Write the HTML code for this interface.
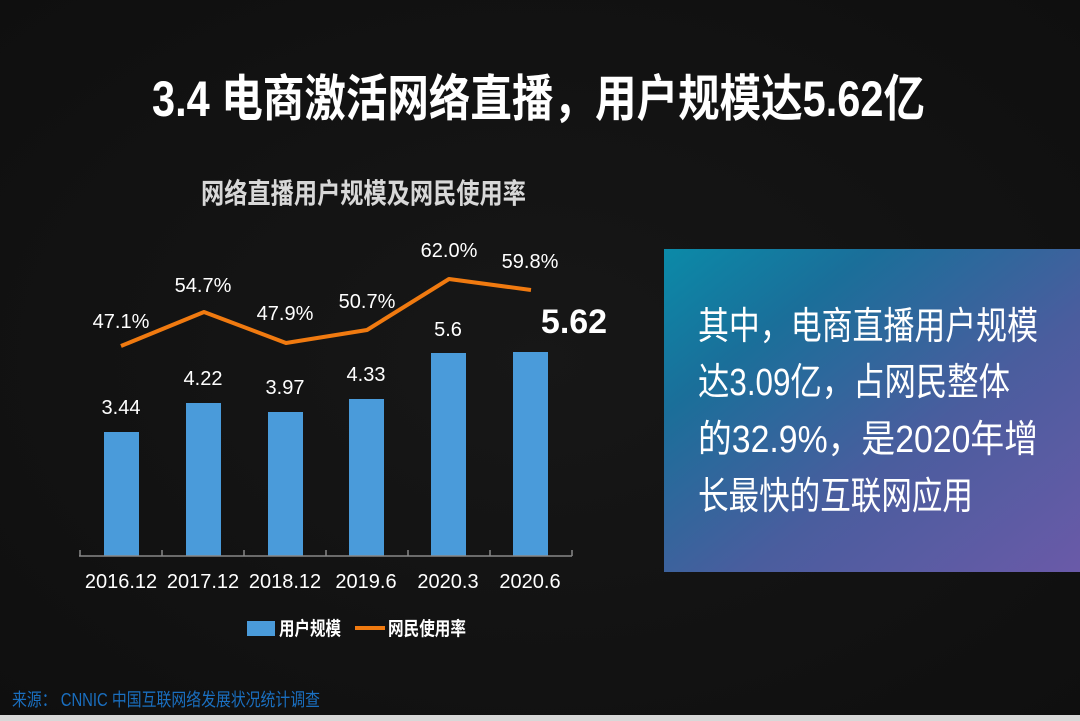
<!DOCTYPE html>
<html><head><meta charset="utf-8"><style>
html,body{margin:0;padding:0;background:#111;}
svg{display:block}
text{font-family:"Liberation Sans","Noto Sans CJK SC",sans-serif;}
</style></head><body>
<svg width="1080" height="721" viewBox="0 0 1080 721" xmlns="http://www.w3.org/2000/svg">
<defs>
<linearGradient id="g" x1="0" y1="0" x2="1" y2="1">
<stop offset="0" stop-color="#0b8aa8"/>
<stop offset="0.25" stop-color="#1a6f9a"/>
<stop offset="0.6" stop-color="#4a5d9e"/>
<stop offset="1" stop-color="#6a5aa8"/>
</linearGradient>
<radialGradient id="bg" cx="0.5" cy="0.5" r="0.7">
<stop offset="0" stop-color="#171717"/>
<stop offset="1" stop-color="#0f0f0f"/>
</radialGradient>
</defs>
<rect width="1080" height="721" fill="url(#bg)"/>
<rect x="0" y="715" width="1080" height="6" fill="#d8d8d8"/>
<text x="152" y="116" fill="#fff" font-size="50" font-weight="bold" textLength="773" lengthAdjust="spacingAndGlyphs">3.4 电商激活网络直播，用户规模达5.62亿</text>
<text x="201" y="203" fill="#d8d8d8" font-size="28" font-weight="bold" textLength="325" lengthAdjust="spacingAndGlyphs">网络直播用户规模及网民使用率</text>
<g fill="#4a9bda">
<rect x="104" y="432" width="35" height="124"/>
<rect x="186" y="403" width="35" height="153"/>
<rect x="268" y="412" width="35" height="144"/>
<rect x="349" y="399" width="35" height="157"/>
<rect x="431" y="353" width="35" height="203"/>
<rect x="513" y="352" width="35" height="204"/>
</g>
<g stroke="#888" stroke-width="1.5">
<line x1="79" y1="556" x2="572" y2="556"/>
<line x1="80" y1="550" x2="80" y2="556"/><line x1="162" y1="550" x2="162" y2="556"/>
<line x1="244" y1="550" x2="244" y2="556"/><line x1="326" y1="550" x2="326" y2="556"/>
<line x1="408" y1="550" x2="408" y2="556"/><line x1="490" y1="550" x2="490" y2="556"/>
<line x1="572" y1="550" x2="572" y2="556"/>
</g>
<polyline points="121,346 204,312 286,343 367,330 449,279 531,290" fill="none" stroke="#f07a10" stroke-width="4" stroke-linejoin="round"/>
<g fill="#fff" font-size="20" text-anchor="middle">
<text x="121" y="328">47.1%</text>
<text x="203" y="292">54.7%</text>
<text x="285" y="320">47.9%</text>
<text x="367" y="308">50.7%</text>
<text x="449" y="257">62.0%</text>
<text x="530" y="268">59.8%</text>
<text x="121" y="414">3.44</text>
<text x="203" y="385">4.22</text>
<text x="285" y="394">3.97</text>
<text x="366" y="381">4.33</text>
<text x="448" y="336">5.6</text>
<text x="121" y="588">2016.12</text>
<text x="203" y="588">2017.12</text>
<text x="285" y="588">2018.12</text>
<text x="366" y="588">2019.6</text>
<text x="448" y="588">2020.3</text>
<text x="530" y="588">2020.6</text>
</g>
<text x="574" y="333" fill="#fff" font-size="34" font-weight="bold" text-anchor="middle">5.62</text>
<rect x="247" y="621" width="28" height="15" fill="#4a9bda"/>
<text x="279" y="635" fill="#fff" font-size="19" font-weight="bold" textLength="62" lengthAdjust="spacingAndGlyphs">用户规模</text>
<line x1="355" y1="628" x2="385" y2="628" stroke="#f07a10" stroke-width="4"/>
<text x="388" y="635" fill="#fff" font-size="19" font-weight="bold" textLength="78" lengthAdjust="spacingAndGlyphs">网民使用率</text>
<rect x="664" y="249" width="416" height="323" fill="url(#g)"/>
<g fill="#fff" font-size="38">
<text x="698" y="339" textLength="340" lengthAdjust="spacingAndGlyphs">其中，电商直播用户规模</text>
<text x="698" y="395" textLength="312" lengthAdjust="spacingAndGlyphs">达3.09亿，占网民整体</text>
<text x="698" y="452" textLength="340" lengthAdjust="spacingAndGlyphs">的32.9%，是2020年增</text>
<text x="698" y="509" textLength="275" lengthAdjust="spacingAndGlyphs">长最快的互联网应用</text>
</g>
<text x="12" y="706" fill="#1a6fc0" font-size="18" textLength="308" lengthAdjust="spacingAndGlyphs">来源：  CNNIC 中国互联网络发展状况统计调查</text>
</svg>
</body></html>
